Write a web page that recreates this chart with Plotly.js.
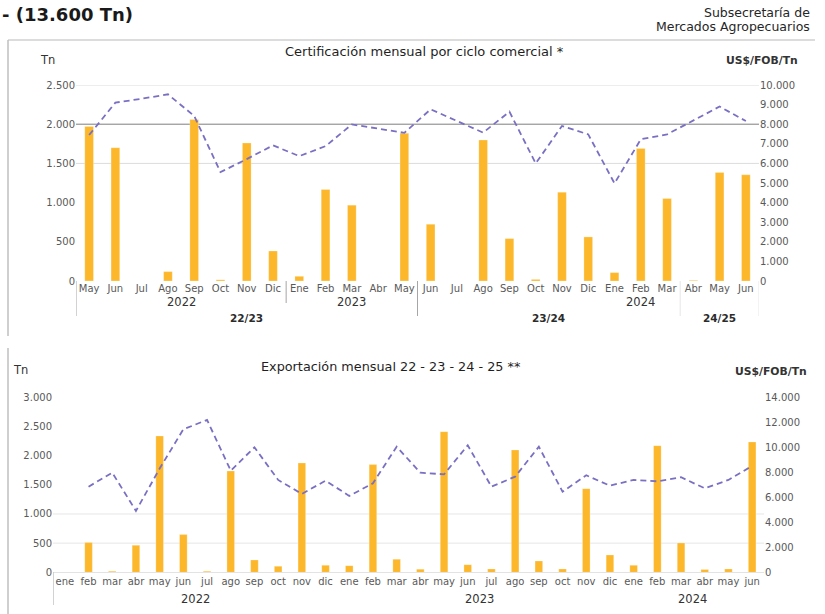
<!DOCTYPE html>
<html>
<head>
<meta charset="utf-8">
<script src="https://cdn.plot.ly/plotly-3.0.1.min.js"></script>
<style>html,body{margin:0;padding:0;background:#fff;}#chart{width:825px;height:614px;}</style>
</head>
<body>
<div id="chart"></div>
<script>
// ---------- DATA ----------
const topMonths = ['May','Jun','Jul','Ago','Sep','Oct','Nov','Dic','Ene','Feb','Mar','Abr','May','Jun','Jul','Ago','Sep','Oct','Nov','Dic','Ene','Feb','Mar','Abr','May','Jun'];
const topTn = [1970,1700,0,120,2060,15,1760,383,60,1167,967,0,1883,724,0,1798,541,20,1133,562,107,1691,1052,8,1385,1355];
const topPrice = [7450,9100,9300,9525,8420,5555,6220,6920,6370,6880,7990,7790,7560,8760,8180,7570,8640,6000,7910,7480,4980,7230,7480,8210,8900,8160];
const topYearLabels = ['2022','2023','2024'];
const topYearStart = [0,8,20];
const topYearEnd = [7,12,22];
const topCycleLabels = ['22/23','23/24','24/25'];
const topCycleStart = [0,13,23];
const topCycleEnd = [12,22,25];

const botMonths = ['ene','feb','mar','abr','may','jun','jul','ago','sep','oct','nov','dic','ene','feb','mar','abr','may','jun','jul','ago','sep','oct','nov','dic','ene','feb','mar','abr','may','jun'];
const botTn = [0,509,20,463,2337,646,20,1737,211,103,1874,120,114,1846,223,54,2411,131,57,2097,194,57,1434,297,120,2171,503,46,57,2234];
const botPrice = [null,6850,7970,4910,8300,11440,12190,8130,10000,7390,6270,7330,6110,7120,10050,7970,7840,10160,6850,7650,10050,6450,7760,6930,7390,7280,7600,6720,7390,8510];
const botYearLabels = ['2022','2023','2024'];
const botYearStart = [0,12,24];
const botYearEnd = [11,23,29];

const topLeftTicks = [0,500,1000,1500,2000,2500];
const topRightTicks = [0,1000,2000,3000,4000,5000,6000,7000,8000,9000,10000];
const botLeftTicks = [0,500,1000,1500,2000,2500,3000];
const botRightTicks = [0,2000,4000,6000,8000,10000,12000,14000];
const topGrid = [1500,2500];
const topGridDark = [2000];
const botGrid = [500,1000];

// ---------- HELPERS ----------
const W = 825, H = 614;
const px = x => x / W;
const py = y => 1 - y / H;
const FONT = 'DejaVu Sans, sans-serif';
const idx = a => a.map((_, i) => i);

const BAR = '#FCB72A';
const LINE = '#7A70C3';

const traces = [
  {type:'bar', x: idx(topMonths), y: topTn, xaxis:'x', yaxis:'y', width:0.33,
   marker:{color:BAR, line:{color:'rgba(255,255,255,0.5)', width:0.5}}, hoverinfo:'skip'},
  {type:'scatter', mode:'lines', x: idx(topMonths), y: topPrice, xaxis:'x', yaxis:'y2',
   line:{color:LINE, width:1.8, dash:'6px,4px'}, hoverinfo:'skip'},
  {type:'bar', x: idx(botMonths), y: botTn, xaxis:'x2', yaxis:'y3', width:0.32,
   marker:{color:BAR, line:{color:'rgba(255,255,255,0.5)', width:0.5}}, hoverinfo:'skip'},
  {type:'scatter', mode:'lines', x: idx(botMonths), y: botPrice, xaxis:'x2', yaxis:'y4',
   line:{color:LINE, width:1.8, dash:'6px,4px'}, hoverinfo:'skip'}
];

const tickFont = {family: FONT, size: 10, color: '#595959'};

const layout = {
  width: W, height: H,
  margin: {l:0, r:0, t:0, b:0},
  paper_bgcolor: '#fff', plot_bgcolor: 'rgba(0,0,0,0)',
  showlegend: false,
  separators: ',.',
  font: {family: FONT},
  bargap: 0,
  xaxis: {domain:[px(76), px(759)], range:[-0.5, topMonths.length-0.5], anchor:'y',
    tickvals: idx(topMonths), ticktext: topMonths, tickfont: tickFont,
    showgrid:false, zeroline:false, showline:false, ticks:'', fixedrange:true},
  yaxis: {domain:[py(281), py(85)], range:[0,2500], tickvals: topLeftTicks, tickformat:',d',
    tickfont: tickFont, showgrid:false, zeroline:false, showline:false, ticks:'', anchor:'x'},
  yaxis2: {domain:[py(281), py(85)], range:[0,10000], overlaying:'y', side:'right', anchor:'x',
    tickvals: topRightTicks, tickformat:',d', tickfont: tickFont,
    showgrid:false, zeroline:false, showline:false, ticks:''},
  xaxis2: {domain:[px(53), px(764)], range:[-0.5, botMonths.length-0.5], anchor:'y3',
    tickvals: idx(botMonths), ticktext: botMonths, tickfont: tickFont,
    showgrid:false, zeroline:false, showline:true, linecolor:'#E3E3E3', linewidth:1, ticks:''},
  yaxis3: {domain:[py(572.3), py(397.3)], range:[0,3000], tickvals: botLeftTicks, tickformat:',d',
    tickfont: tickFont, showgrid:false, zeroline:false, showline:false, ticks:'', anchor:'x2'},
  yaxis4: {domain:[py(572.3), py(397.3)], range:[0,14000], overlaying:'y3', side:'right', anchor:'x2',
    tickvals: botRightTicks, tickformat:',d', tickfont: tickFont,
    showgrid:false, zeroline:false, showline:false, ticks:''},
  shapes: [],
  annotations: []
};

// Gridlines
topGrid.forEach(v => layout.shapes.push({type:'line', xref:'x domain', yref:'y', x0:0, x1:1, y0:v, y1:v,
  line:{color:'#DCDCDC', width:1}, layer:'below'}));
topGridDark.forEach(v => layout.shapes.push({type:'line', xref:'x domain', yref:'y', x0:0, x1:1, y0:v, y1:v,
  line:{color:'#7F7F7F', width:1}, layer:'below'}));
botGrid.forEach(v => layout.shapes.push({type:'line', xref:'x2 domain', yref:'y3', x0:0, x1:1, y0:v, y1:v,
  line:{color:'#E6E6E6', width:1}, layer:'below'}));

// Panel borders
const border = '#BFBFBF';
layout.shapes.push({type:'line', xref:'paper', yref:'paper', x0:px(8), x1:px(815), y0:py(40), y1:py(40), line:{color:'#D0D0D0', width:1.5}});
layout.shapes.push({type:'line', xref:'paper', yref:'paper', x0:px(8), x1:px(8), y0:py(40), y1:py(336), line:{color:border, width:1.5}});
layout.shapes.push({type:'line', xref:'paper', yref:'paper', x0:px(8), x1:px(8), y0:py(348), y1:py(614), line:{color:border, width:1.5}});

// Category separators
const sep = (xref, xv, y0, y1, color) => layout.shapes.push({type:'line', xref:xref, yref:'paper',
  x0:xv, x1:xv, y0:py(y0), y1:py(y1), line:{color:color, width:1}});
topCycleStart.forEach((s,i) => sep('x', s-0.5, 281, 316, i === 2 ? '#E6E6E6' : '#A6A6A6'));
sep('x', topCycleEnd[topCycleEnd.length-1]+0.5, 281, 316, '#E6E6E6');
sep('x', topYearEnd[0]+0.5, 281, 303, '#A6A6A6');
sep('x2', botYearStart[0]-0.5, 572.3, 605, '#A6A6A6');

// Group labels
topYearLabels.forEach((t,i) => layout.annotations.push({xref:'x', yref:'paper',
  x:(topYearStart[i]+topYearEnd[i])/2, y:py(302), text:t, showarrow:false, xanchor:'center', yanchor:'middle',
  font:{family:FONT, size:11.5, color:'#333333'}}));
topCycleLabels.forEach((t,i) => layout.annotations.push({xref:'x', yref:'paper',
  x:(topCycleStart[i]+topCycleEnd[i])/2, y:py(318), text:'<b>'+t+'</b>', showarrow:false, xanchor:'center', yanchor:'middle',
  font:{family:FONT, size:10.5, color:'#2b2b2b'}}));
botYearLabels.forEach((t,i) => layout.annotations.push({xref:'x2', yref:'paper',
  x:(botYearStart[i]+botYearEnd[i])/2, y:py(599), text:t, showarrow:false, xanchor:'center', yanchor:'middle',
  font:{family:FONT, size:11.5, color:'#333333'}}));

// Texts
const ann = (text, x, y, xanchor, size, color) => layout.annotations.push({xref:'paper', yref:'paper',
  x:px(x), y:py(y), text:text, showarrow:false, xanchor:xanchor, yanchor:'middle',
  font:{family:FONT, size:size, color:color}});
ann('<b>- (13.600 Tn)</b>', 0, 14, 'left', 18, '#1a1a1a');
ann('Subsecretaría de', 812, 12, 'right', 12.5, '#262626');
ann('Mercados Agropecuarios', 812, 26, 'right', 12.5, '#262626');
ann('Certificación mensual por ciclo comercial *', 424, 51, 'center', 13, '#1f1f1f');
ann('Tn', 47, 60, 'center', 11.5, '#333333');
ann('<b>US$/FOB/Tn</b>', 762, 60, 'center', 10.8, '#333333');
ann('Exportación mensual 22 - 23 - 24 - 25 **', 391, 366, 'center', 12.8, '#1f1f1f');
ann('Tn', 20, 370, 'center', 11.5, '#333333');
ann('<b>US$/FOB/Tn</b>', 771, 371, 'center', 10.8, '#333333');

Plotly.newPlot('chart', traces, layout, {staticPlot:true, displayModeBar:false});
</script>
</body>
</html>
